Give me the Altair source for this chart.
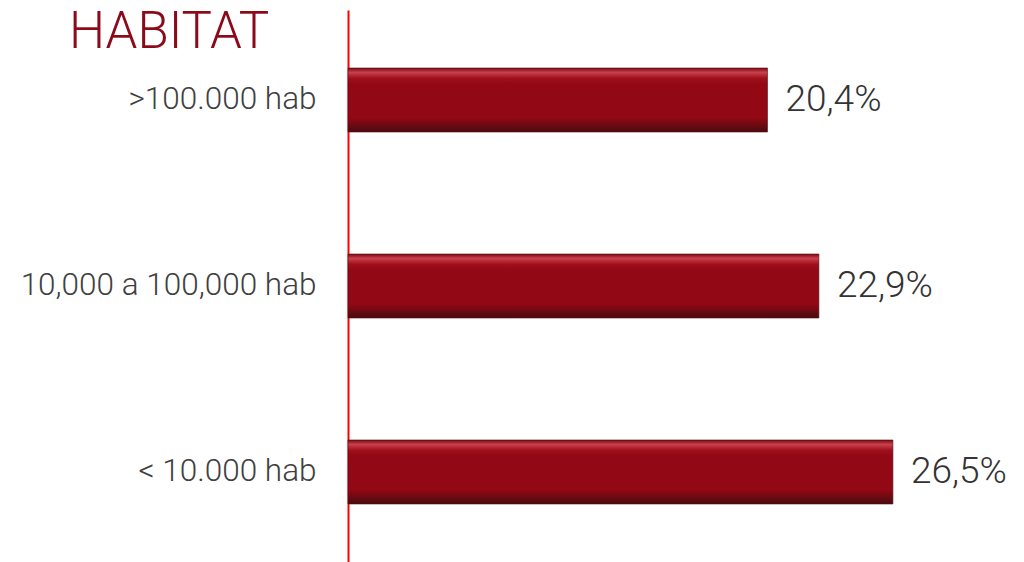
import altair as alt
import pandas as pd

categories = [">100.000 hab", "10,000 a 100,000 hab", "< 10.000 hab"]
values = [20.4, 22.9, 26.5]
labels = ["20,4%", "22,9%", "26,5%"]
title_text = ["HABITAT"]

df = pd.DataFrame({"cat": categories, "val": values, "label": labels})
df_title = pd.DataFrame({"t": title_text})

bar_fill = alt.Gradient(
    gradient="linear",
    stops=[
        alt.GradientStop(color="#7a0a14", offset=0),
        alt.GradientStop(color="#c8404c", offset=0.07),
        alt.GradientStop(color="#a0101c", offset=0.16),
        alt.GradientStop(color="#920814", offset=0.25),
        alt.GradientStop(color="#920814", offset=0.78),
        alt.GradientStop(color="#6a0a12", offset=0.9),
        alt.GradientStop(color="#4a0a0e", offset=1),
    ],
    x1=0, x2=0, y1=0, y2=1,
)

base = alt.Chart(df).encode(
    y=alt.Y(
        "cat:N",
        sort=categories,
        title=None,
        scale=alt.Scale(paddingInner=0.656, paddingOuter=0.312),
        axis=alt.Axis(
            domainColor="#FF0000",
            domainWidth=2,
            ticks=False,
            labelFont="Roboto",
            labelFontSize=31.5,
            labelFontWeight=300,
            labelColor="#404040",
            labelPadding=32,
            labelLimit=400,
            grid=False,
        ),
    ),
    x=alt.X("val:Q", scale=alt.Scale(domain=[0, 32]), axis=None),
)

bars = base.mark_bar(fill=bar_fill, stroke="#5a0a10", strokeWidth=1, strokeOpacity=0.6)
texts = base.mark_text(
    align="left", baseline="middle", dx=18,
    font="Roboto", fontSize=37, fontWeight=300, color="#333333",
).encode(text="label:N")

title = alt.Chart(df_title).mark_text(
    align="left", baseline="alphabetic",
    font="Roboto", fontSize=51, fontWeight=300, color="#8B0A1A",
).encode(text="t:N", x=alt.value(-279), y=alt.value(38))

chart = (
    alt.layer(bars, texts, title)
    .properties(
        width=658,
        height=552,
        autosize=alt.AutoSizeParams(type="none"),
        padding={"left": 340, "top": 2, "right": 0, "bottom": 0},
    )
    .configure_view(stroke=None)
)

chart.save("out.html", embed_options={"renderer": "svg", "actions": False})
